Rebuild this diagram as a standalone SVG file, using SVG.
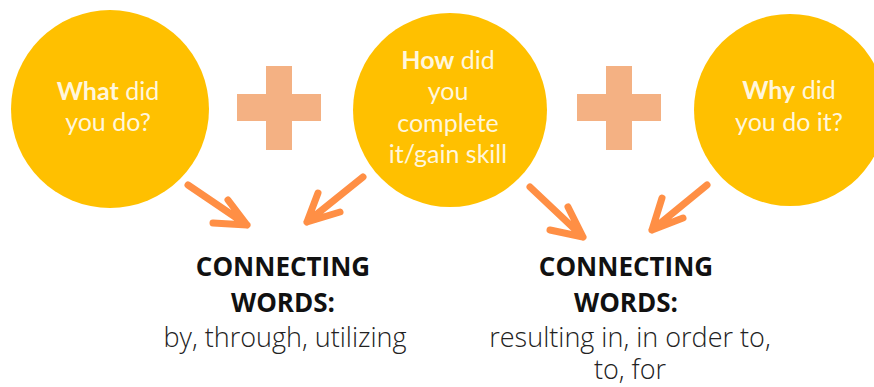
<svg xmlns="http://www.w3.org/2000/svg" width="874" height="387" viewBox="0 0 874 387">
<style>
.c{fill:#FFC000}
.p{fill:#F4B183}
.ct{font-family:"Lato","Open Sans",sans-serif;font-size:25px;fill:#FFF6DC;text-anchor:middle}
.b{font-weight:bold}
.a{fill:none;stroke:#FF8F45;stroke-width:7;stroke-linecap:round;stroke-linejoin:round}
.h{font-family:"Open Sans",sans-serif;font-size:26px;font-weight:bold;fill:#111;text-anchor:middle}
.r{font-family:"Open Sans",sans-serif;font-size:27px;font-weight:300;fill:#222;text-anchor:middle}
</style>
<rect width="874" height="387" fill="#fff"/>
<g id="node-what">
<circle class="c" cx="110" cy="109" r="99"/>
<text class="ct" x="108" y="100"><tspan class="b">What</tspan> did</text>
<text class="ct" x="108" y="131">you do?</text>
</g>
<g id="plus-1">
<rect class="p" x="266" y="66" width="26" height="84"/>
<rect class="p" x="237" y="94" width="84" height="27"/>
</g>
<g id="node-how">
<circle class="c" cx="450" cy="110" r="97"/>
<text class="ct" x="448" y="69"><tspan class="b">How</tspan> did</text>
<text class="ct" x="448" y="100">you</text>
<text class="ct" x="448" y="132">complete</text>
<text class="ct" x="448" y="163">it/gain skill</text>
</g>
<g id="plus-2">
<rect class="p" x="606" y="66" width="26" height="84"/>
<rect class="p" x="577" y="94" width="84" height="27"/>
</g>
<g id="node-why">
<circle class="c" cx="790" cy="110" r="96"/>
<text class="ct" x="789" y="99"><tspan class="b">Why</tspan> did</text>
<text class="ct" x="789" y="131">you do it?</text>
</g>
<g id="connectors">
<path class="a" d="M188,185 L247,225 M228,200 L247,225 L213,223"/>
<path class="a" d="M363,177 L307,222 M318,193 L307,222 L340,212"/>
<path class="a" d="M530,187 L583,237 M568,207 L583,237 L550,230"/>
<path class="a" d="M707,185 L652,230 M662,198 L652,230 L683,218"/>
</g>
<g id="label-left">
<text class="h" x="283" y="276">CONNECTING</text>
<text class="h" x="283" y="312">WORDS:</text>
<text class="r" x="285" y="347">by, through, utilizing</text>
</g>
<g id="label-right">
<text class="h" x="626" y="276">CONNECTING</text>
<text class="h" x="626" y="312">WORDS:</text>
<text class="r" x="630" y="347">resulting in, in order to,</text>
<text class="r" x="630" y="379">to, for</text>
</g>
</svg>
